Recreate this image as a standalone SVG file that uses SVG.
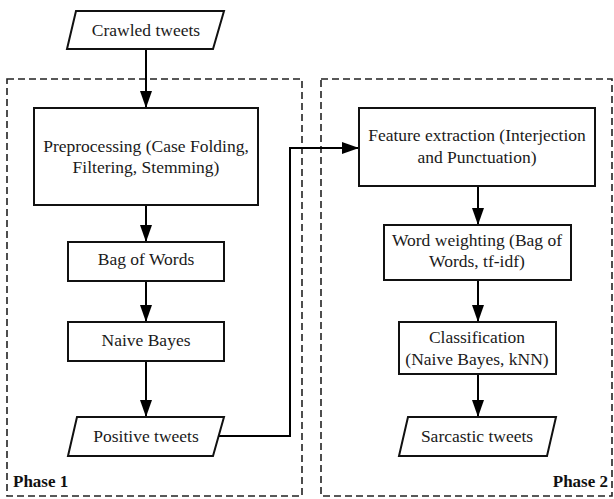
<svg xmlns="http://www.w3.org/2000/svg" width="614" height="499" viewBox="0 0 614 499">
<defs>
<marker id="ah" markerWidth="17" markerHeight="12" refX="17" refY="6" viewBox="0 0 17 12" markerUnits="userSpaceOnUse" orient="auto">
<path d="M0,0 L17,6 L0,12 Z" fill="#000"/>
</marker>
</defs>
<style>
.b{fill:#fff;stroke:#111;stroke-width:2}
.t{font-family:"Liberation Serif",serif;font-size:17.5px;fill:#1a1a1a;text-anchor:middle}
.ph{font-family:"Liberation Serif",serif;font-size:17px;font-weight:bold;fill:#111}
.d{fill:none;stroke:#222;stroke-width:1.6;stroke-dasharray:7 4}
.c{fill:none;stroke:#000;stroke-width:2}
</style>
<rect width="614" height="499" fill="#fff"/>
<g id="phase1"><rect class="d" x="7" y="79" width="295" height="417"/><text class="ph" x="13" y="487">Phase 1</text></g>
<g id="phase2"><rect class="d" x="321" y="79" width="291" height="417"/><text class="ph" x="608" y="487" text-anchor="end">Phase 2</text></g>
<g id="connectors">
<line class="c" x1="146" y1="49" x2="146" y2="108" marker-end="url(#ah)"/>
<line class="c" x1="146" y1="205" x2="146" y2="242" marker-end="url(#ah)"/>
<line class="c" x1="146" y1="281" x2="146" y2="322" marker-end="url(#ah)"/>
<line class="c" x1="146" y1="361" x2="146" y2="417" marker-end="url(#ah)"/>
<polyline class="c" points="218,436 290,436 290,148 359,148" marker-end="url(#ah)"/>
<line class="c" x1="478" y1="186" x2="478" y2="225" marker-end="url(#ah)"/>
<line class="c" x1="478" y1="280" x2="478" y2="322" marker-end="url(#ah)"/>
<line class="c" x1="478" y1="374" x2="478" y2="417" marker-end="url(#ah)"/>
</g>
<g id="crawled"><polygon class="b" points="76,11 224,11 213,49 67,49"/><text class="t" x="146" y="36">Crawled tweets</text></g>
<g id="preprocessing"><rect class="b" x="34" y="108" width="224" height="97"/><text class="t" x="146" y="152">Preprocessing (Case Folding,</text><text class="t" x="146" y="173">Filtering, Stemming)</text></g>
<g id="bow"><rect class="b" x="68" y="242" width="156" height="39"/><text class="t" x="146" y="265">Bag of Words</text></g>
<g id="nb"><rect class="b" x="68" y="322" width="156" height="39"/><text class="t" x="146" y="346">Naive Bayes</text></g>
<g id="positive"><polygon class="b" points="77,417 224,417 213,456 68,456"/><text class="t" x="146" y="442">Positive tweets</text></g>
<g id="feature"><rect class="b" x="359" y="108" width="236" height="78"/><text class="t" x="477" y="141">Feature extraction (Interjection</text><text class="t" x="477" y="163">and Punctuation)</text></g>
<g id="weighting"><rect class="b" x="384" y="225" width="187" height="55"/><text class="t" x="477" y="246">Word weighting (Bag of</text><text class="t" x="477" y="267">Words, tf-idf)</text></g>
<g id="classification"><rect class="b" x="399" y="322" width="157" height="52"/><text class="t" x="477" y="343">Classification</text><text class="t" x="477" y="365">(Naive Bayes, kNN)</text></g>
<g id="sarcastic"><polygon class="b" points="408,417 556,417 547,456 399,456"/><text class="t" x="477" y="442">Sarcastic tweets</text></g>
</svg>
